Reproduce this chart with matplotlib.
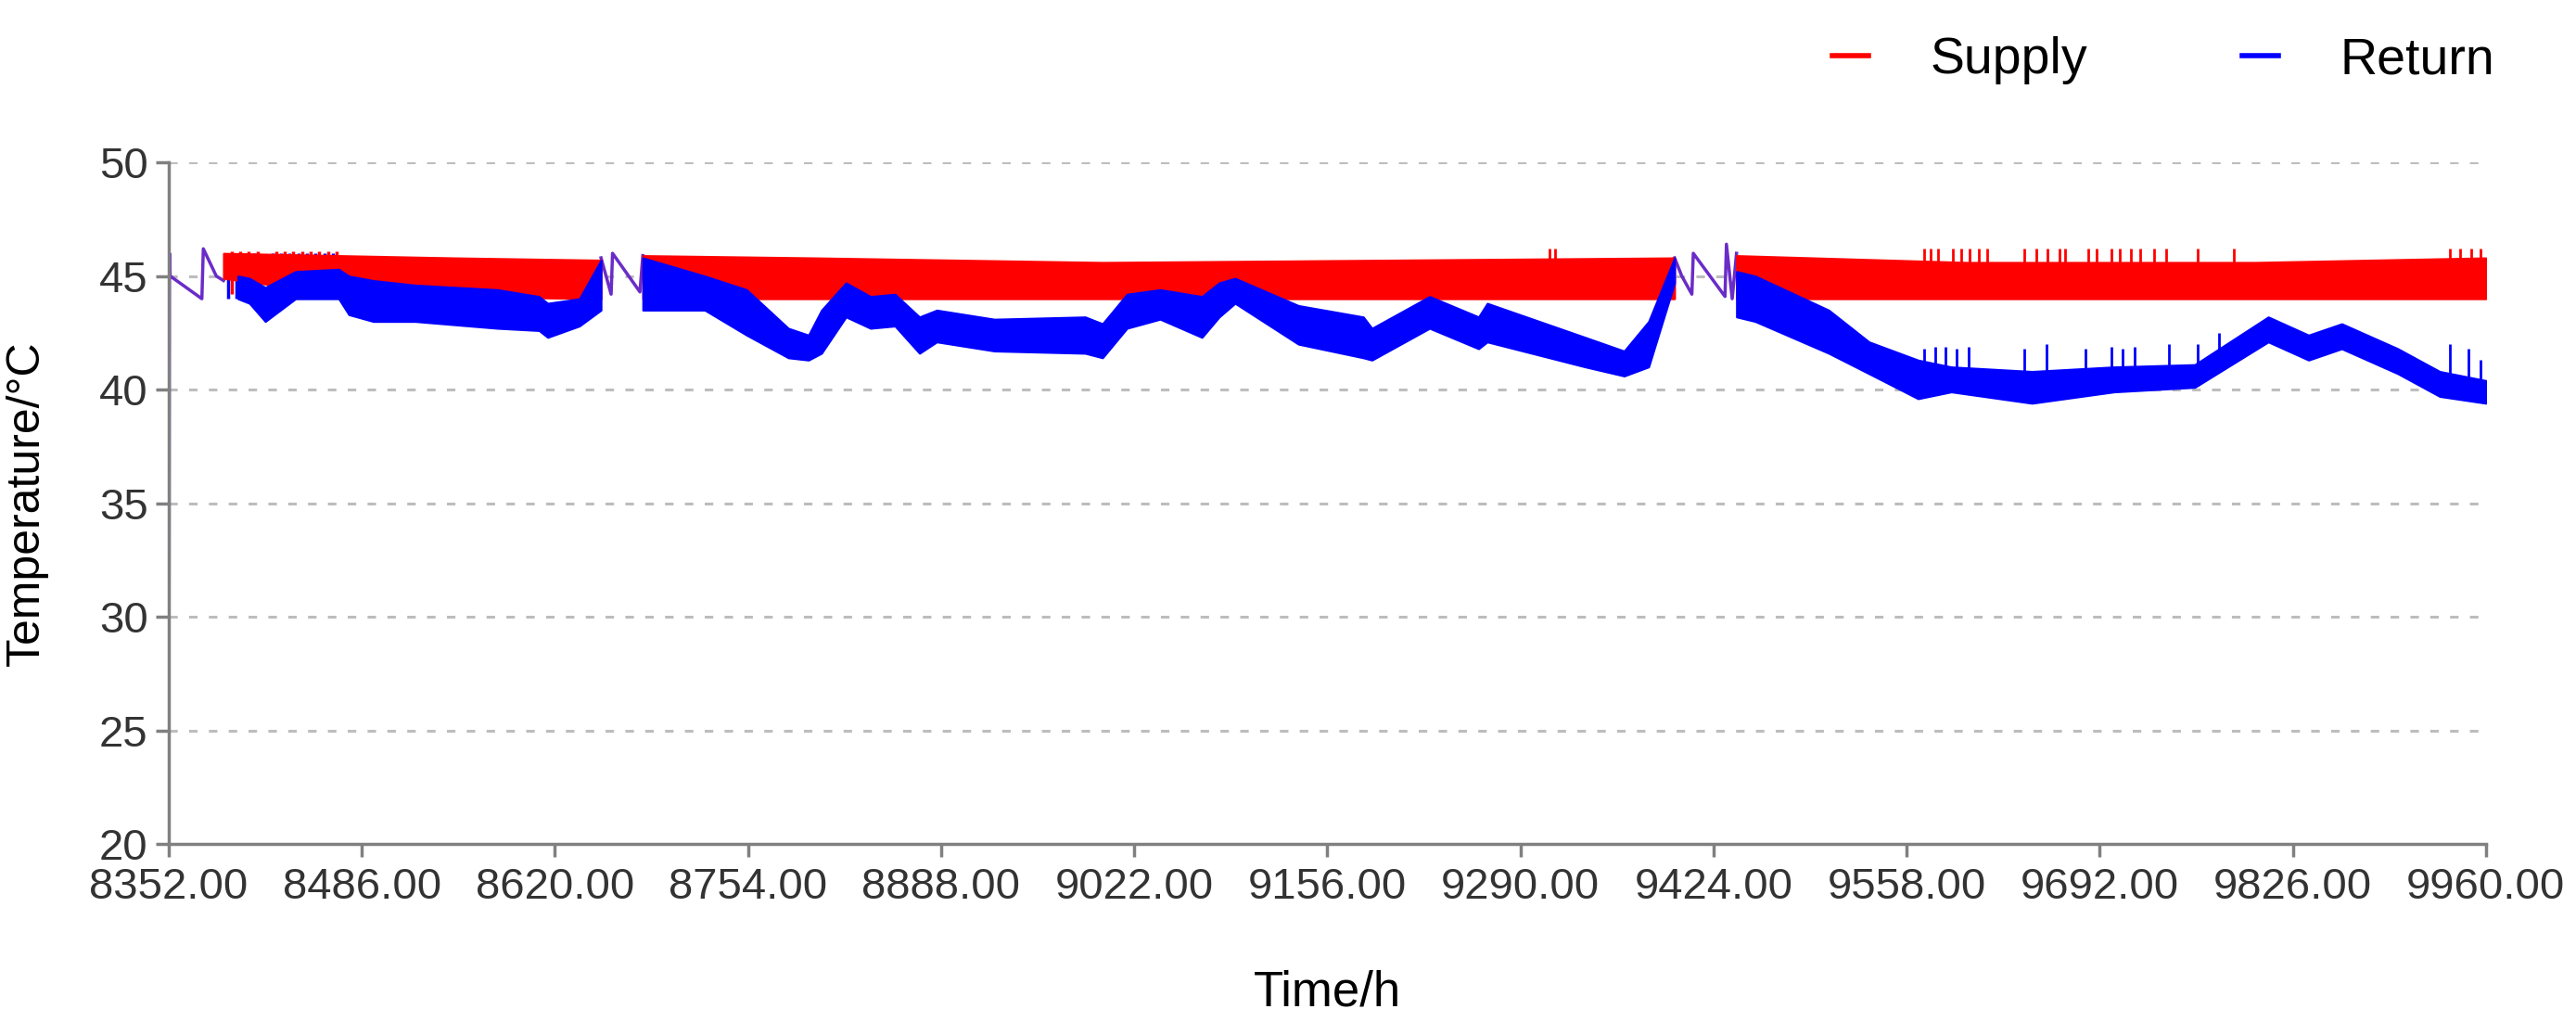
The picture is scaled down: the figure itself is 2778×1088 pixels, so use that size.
import numpy as np
import matplotlib

matplotlib.use("Agg")
import matplotlib.pyplot as plt

# ---- data ----
x_ticks = [8352, 8486, 8620, 8754, 8888, 9022, 9156, 9290, 9424, 9558, 9692, 9826, 9960]
y_ticks = [20, 25, 30, 35, 40, 45, 50]

# supply band envelopes per continuous segment (time, low, high)
supply_t = [[8390, 8470, 8550, 8652],
            [8681, 8800, 9000, 9200, 9397],
            [9440, 9600, 9800, 9960]]
supply_lo = [[44.9, 44.2, 44.1, 44.0],
             [44.0, 44.0, 44.0, 44.0, 44.0],
             [44.0, 44.0, 44.0, 44.0]]
supply_hi = [[46.0, 45.9, 45.8, 45.7],
             [45.9, 45.8, 45.6, 45.7, 45.8],
             [45.9, 45.6, 45.6, 45.8]]

# return band envelopes
return_t = [[8400, 8408, 8419, 8440, 8470, 8477, 8494, 8523, 8580, 8609, 8615, 8637, 8652],
            [8681, 8724, 8753, 8782, 8796, 8805, 8822, 8839, 8856, 8873, 8885, 8925, 8988,
             9000, 9017, 9040, 9069, 9081, 9092, 9136, 9181, 9187, 9227, 9261, 9267, 9335,
             9362, 9379, 9397],
            [9440, 9453, 9504, 9532, 9566, 9589, 9645, 9702, 9758, 9809, 9837, 9860, 9899,
             9928, 9960]]
return_lo = [[44.0, 43.8, 43.0, 44.0, 44.0, 43.3, 43.0, 43.0, 42.7, 42.6, 42.3, 42.8, 43.5],
             [43.5, 43.5, 42.4, 41.4, 41.3, 41.6, 43.2, 42.7, 42.8, 41.6, 42.1, 41.7, 41.6,
              41.4, 42.7, 43.1, 42.3, 43.2, 43.8, 42.0, 41.4, 41.3, 42.7, 41.8, 42.1, 41.0,
              40.6, 41.0, 44.7],
             [43.2, 43.0, 41.6, 40.7, 39.6, 39.9, 39.4, 39.9, 40.1, 42.1, 41.3, 41.8, 40.7,
              39.7, 39.4]]
return_hi = [[45.0, 44.9, 44.5, 45.2, 45.3, 45.0, 44.8, 44.6, 44.4, 44.1, 43.8, 44.0, 45.7],
             [45.8, 45.0, 44.4, 42.7, 42.4, 43.5, 44.7, 44.1, 44.2, 43.2, 43.5, 43.1, 43.2,
              42.9, 44.2, 44.4, 44.1, 44.7, 44.9, 43.7, 43.2, 42.7, 44.1, 43.2, 43.8, 42.3,
              41.7, 43.0, 45.8],
             [45.2, 45.0, 43.5, 42.1, 41.3, 41.0, 40.8, 41.0, 41.1, 43.2, 42.4, 42.9, 41.8,
              40.8, 40.4]]

# sparse trace through the data gaps (start-up, 8652-8681, 9397-9440)
gap_t = [[8352, 8352.5, 8353, 8375, 8376, 8385, 8390],
         [8652, 8659, 8660, 8679, 8681],
         [9397, 9402, 9409, 9410, 9432, 9433, 9437, 9440]]
gap_v = [[20.0, 46.0, 45.0, 44.0, 46.2, 45.0, 44.8],
         [45.8, 44.2, 46.0, 44.3, 45.9],
         [45.8, 45.0, 44.2, 46.0, 44.1, 46.4, 44.0, 46.0]]

# spikes in the start-up region and in the last segment
startup_spikes = [8393, 8399, 8405, 8411, 8424, 8430, 8436, 8442, 8448, 8454, 8460, 8466]
supply_spike_t = [9310, 9314, 9570, 9575, 9580, 9590, 9596, 9602, 9608, 9614, 9640, 9648,
                  9656, 9664, 9668, 9684, 9690, 9700, 9706, 9714, 9720, 9730, 9738, 9760,
                  9785, 9935, 9942, 9950, 9956]
return_spike_t = [9570, 9578, 9585, 9593, 9601, 9640, 9655, 9682, 9700, 9708, 9716, 9740,
                  9760, 9775, 9935, 9948, 9956]
return_spike_top = [41.8, 41.9, 41.9, 41.8, 41.9, 41.8, 42.0, 41.8, 41.9, 41.8, 41.9, 42.0,
                    42.0, 42.5, 42.0, 41.8, 41.3]

RED = "#ff0000"
BLUE = "#0000ff"
PURPLE = "#6a2cc8"
FONT = ["Liberation Sans Narrow", "Liberation Sans", "DejaVu Sans"]

fig = plt.figure(figsize=(27.78, 10.88), dpi=100)
ax = fig.add_axes([0.0655, 0.1636, 0.8995, 0.6754])

for t, v in zip(gap_t, gap_v):
    ax.plot(t, v, color=PURPLE, lw=2.5, zorder=2)
for t in startup_spikes:
    ax.vlines(t, 44.0, 46.0, color=BLUE, lw=2.5, zorder=3)
    ax.vlines(t + 2.5, 44.2, 46.1, color=RED, lw=2.5, zorder=3)

for t, lo, hi in zip(supply_t, supply_lo, supply_hi):
    ax.fill_between(t, lo, hi, color=RED, lw=1.5, edgecolor=RED, zorder=3)
for t, lo, hi in zip(return_t, return_lo, return_hi):
    ax.fill_between(t, lo, hi, color=BLUE, lw=1.5, edgecolor=BLUE, zorder=4)

ax.vlines(supply_spike_t, 45.5, 46.2, color=RED, lw=2, zorder=3)
seg_t, seg_lo = return_t[2], return_lo[2]
ax.vlines(return_spike_t, np.interp(return_spike_t, seg_t, seg_lo), return_spike_top,
          color=BLUE, lw=2, zorder=4)

ax.set_xlim(8352, 9960)
ax.set_ylim(20, 50)
ax.set_xticks(x_ticks)
ax.set_xticklabels([f"{t:.2f}" for t in x_ticks])
ax.set_yticks(y_ticks)
for y in y_ticks[1:]:
    ax.axhline(y, color="#bdbdbd", lw=2.2, ls=(0, (3, 4)), zorder=1)

for side in ("top", "right"):
    ax.spines[side].set_visible(False)
for side in ("left", "bottom"):
    ax.spines[side].set_color("#808080")
    ax.spines[side].set_linewidth(2.5)
ax.tick_params(colors="#808080", width=2.5, length=10, labelcolor="#333333")
ax.tick_params(axis="y", pad=6)
ax.tick_params(axis="x", pad=8)
for lab in ax.get_xticklabels() + ax.get_yticklabels():
    lab.set_fontfamily(FONT)
    lab.set_fontsize(34)

ax.set_xlabel("Time/h", fontsize=38, family=FONT[1:])
ax.set_ylabel("Temperature/°C", fontsize=36, family=FONT[1:])
ax.xaxis.set_label_coords(0.5, -0.185)
ax.yaxis.set_label_coords(-0.052, 0.5)

ax.plot([], [], color=RED, lw=4, label="Supply")
ax.plot([], [], color=BLUE, lw=4, label="Return")
ax.legend(loc="center", bbox_to_anchor=(0.84, 0.94), bbox_transform=fig.transFigure,
          ncol=2, frameon=False, handlelength=0.7, columnspacing=3,
          handletextpad=1.2, prop={"family": FONT[1:], "size": 40})

fig.savefig("out.png", dpi=100, facecolor="white")
